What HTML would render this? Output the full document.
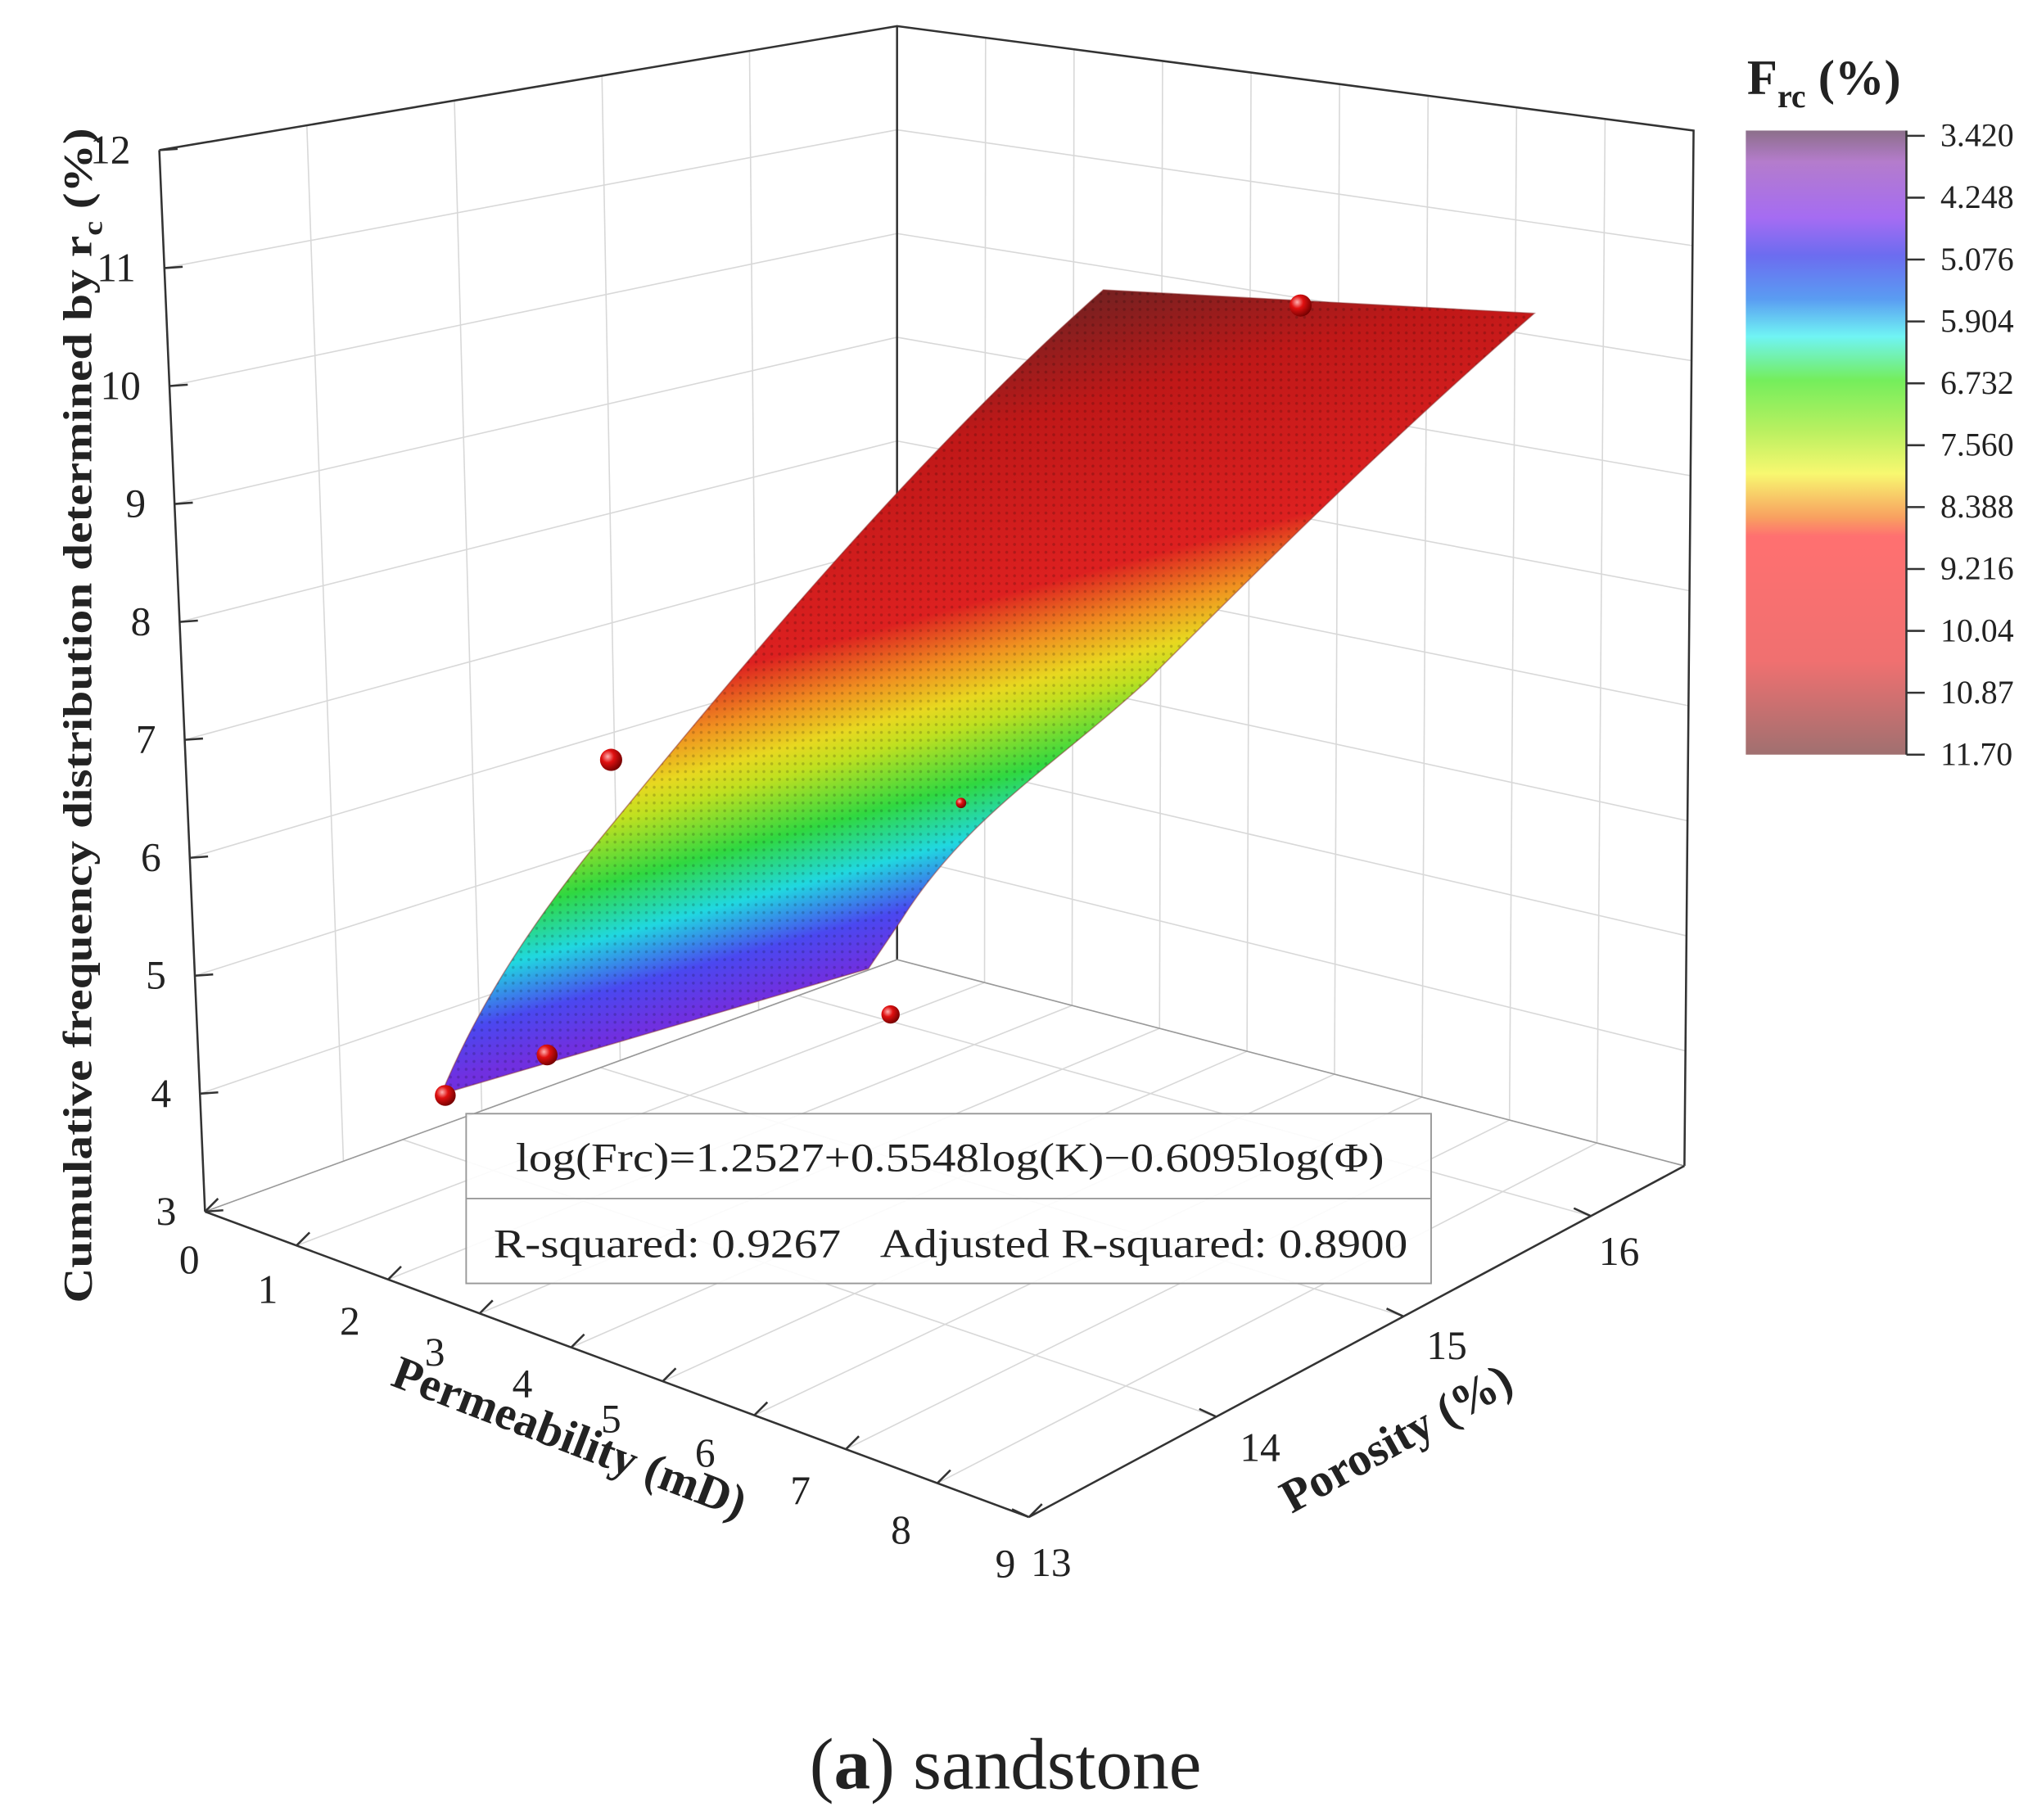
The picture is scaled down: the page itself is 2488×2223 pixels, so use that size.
<!DOCTYPE html>
<html><head><meta charset="utf-8"><style>
html,body{margin:0;padding:0;background:#fff;}
svg{display:block;}
text{font-family:"Liberation Serif",serif;fill:#222;}
</style></head><body>
<svg id="s" width="2488" height="2223" viewBox="0 0 1560 1394" preserveAspectRatio="none" xmlns="http://www.w3.org/2000/svg">
<defs>
<linearGradient id="cb" x1="0" y1="0" x2="0" y2="1">
<stop offset="0" stop-color="#8c6f8a"/>
<stop offset="0.05" stop-color="#b47ccc"/>
<stop offset="0.14" stop-color="#a56cf2"/>
<stop offset="0.2" stop-color="#6c6cf0"/>
<stop offset="0.27" stop-color="#5a9cf2"/>
<stop offset="0.33" stop-color="#70f4f4"/>
<stop offset="0.4" stop-color="#74ee5c"/>
<stop offset="0.48" stop-color="#b8f060"/>
<stop offset="0.55" stop-color="#f8f870"/>
<stop offset="0.62" stop-color="#f8a060"/>
<stop offset="0.65" stop-color="#ff7070"/>
<stop offset="0.85" stop-color="#f07070"/>
<stop offset="1" stop-color="#a07070"/>
</linearGradient>
<linearGradient id="sf" gradientUnits="userSpaceOnUse" x1="600" y1="810" x2="470" y2="330">
<stop offset="0" stop-color="#6a2ad8"/>
<stop offset="0.1" stop-color="#7030e0"/>
<stop offset="0.17" stop-color="#4a48f0"/>
<stop offset="0.25" stop-color="#20d8e0"/>
<stop offset="0.33" stop-color="#30d840"/>
<stop offset="0.42" stop-color="#c0e020"/>
<stop offset="0.46" stop-color="#e8d820"/>
<stop offset="0.52" stop-color="#f09020"/>
<stop offset="0.6" stop-color="#dd2020"/>
<stop offset="0.85" stop-color="#c01818"/>
<stop offset="1.1" stop-color="#7a2020"/>
</linearGradient>
<radialGradient id="ball" cx="0.35" cy="0.35" r="0.7">
<stop offset="0" stop-color="#ffb0b0"/><stop offset="0.4" stop-color="#e01010"/><stop offset="1" stop-color="#700000"/>
</radialGradient>
<pattern id="mesh" width="6" height="6" patternUnits="userSpaceOnUse">
<circle cx="3" cy="3" r="1.1" fill="#000" fill-opacity="0.18"/>
</pattern>
</defs>
<g id="grid" stroke="#d8d8d8" stroke-width="1" fill="none"></g>
<g id="frame" stroke="#333" stroke-width="1.6" fill="none">
<polyline points="122,115 687,20 1297,100 1290,893"/>
<line x1="687" y1="20" x2="687" y2="735"/>
<line x1="687" y1="735" x2="1290" y2="893" stroke="#999" stroke-width="1"/>
<line x1="157" y1="928" x2="687" y2="735" stroke="#999" stroke-width="1"/>
<line x1="122" y1="115" x2="157" y2="928"/>
<line x1="157" y1="928" x2="788" y2="1162"/>
<line x1="788" y1="1162" x2="1290" y2="893"/>
</g>
<g id="ticks" stroke="#333" stroke-width="1.6"></g>
<g id="labels" font-size="31"></g>
<path d="M338,838 C370,760 420,690 470,630 C560,520 700,350 845,222 L1175,240 C1060,340 960,440 880,520 C810,585 740,625 690,705 L665,742 Z" fill="url(#sf)"/>
<path d="M338,838 C370,760 420,690 470,630 C560,520 700,350 845,222 L1175,240 C1060,340 960,440 880,520 C810,585 740,625 690,705 L665,742 Z" fill="url(#mesh)" stroke="#8a3030" stroke-width="1" stroke-opacity="0.5"/>
<g fill="url(#ball)">
<circle cx="341" cy="839" r="8"/><circle cx="419" cy="808" r="8"/><circle cx="468" cy="582" r="8.5"/>
<circle cx="682" cy="777" r="7"/><circle cx="736" cy="615" r="4"/><circle cx="996" cy="234" r="8.5"/>
</g>
<rect x="357" y="853" width="739" height="130" fill="#fff" fill-opacity="0.9" stroke="#999" stroke-width="1.2"/>
<line x1="357" y1="918" x2="1096" y2="918" stroke="#999" stroke-width="1.2"/>
<text x="395" y="897" font-size="31" textLength="665" lengthAdjust="spacingAndGlyphs">log(Frc)=1.2527+0.5548log(K)−0.6095log(Φ)</text>
<text x="378" y="963" font-size="31" textLength="266" lengthAdjust="spacingAndGlyphs">R-squared: 0.9267</text>
<text x="674" y="963" font-size="31" textLength="404" lengthAdjust="spacingAndGlyphs">Adjusted R-squared: 0.8900</text>
<text x="70" y="548" font-size="31" font-weight="bold" text-anchor="middle" transform="rotate(-90 70 548)" textLength="900" lengthAdjust="spacingAndGlyphs">Cumulative frequency distribution determined by r<tspan font-size="21" dy="8">c</tspan><tspan dy="-8"> (%)</tspan></text>
<text x="432" y="1112" font-size="36" font-weight="bold" text-anchor="middle" transform="rotate(21 432 1112)">Permeability (mD)</text>
<text x="1075" y="1112" font-size="36" font-weight="bold" text-anchor="middle" transform="rotate(-29 1075 1112)">Porosity (%)</text>
<rect x="1337" y="100" width="123" height="478" fill="url(#cb)"/>
<line x1="1460" y1="100" x2="1460" y2="578" stroke="#333" stroke-width="1.6"/>
<g id="cbt" font-size="25"></g>
<text x="1338" y="72" font-size="38" font-weight="bold">F<tspan font-size="25" dy="10">rc</tspan><tspan dy="-10"> (%)</tspan></text>
<text x="770" y="1370" font-size="56" text-anchor="middle">(<tspan font-weight="bold">a</tspan>) sandstone</text>
</svg>
<script>
const NS="http://www.w3.org/2000/svg";
function L(g,x1,y1,x2,y2){const l=document.createElementNS(NS,"line");l.setAttribute("x1",x1);l.setAttribute("y1",y1);l.setAttribute("x2",x2);l.setAttribute("y2",y2);document.getElementById(g).appendChild(l);}
function T(g,x,y,s,a){const t=document.createElementNS(NS,"text");t.setAttribute("x",x);t.setAttribute("y",y);if(a)t.setAttribute("text-anchor",a);t.textContent=s;document.getElementById(g).appendChild(t);}
function lerp(a,b,t){return [a[0]+(b[0]-a[0])*t,a[1]+(b[1]-a[1])*t];}
const FL=[157,928],FLt=[122,115],BK=[687,735],BKt=[687,20],FR=[788,1162],R=[1290,893],Rt=[1297,100];
for(let i=0;i<=9;i++){const t=i/9;const a=lerp(FL,FLt,t),b=lerp(BK,BKt,t);L("grid",a[0],a[1],b[0],b[1]);
 const c=lerp(R,Rt,t);L("grid",b[0],b[1],c[0],c[1]);
 L("ticks",a[0],a[1],a[0]+14,a[1]-1);
 T("labels",a[0]-22,a[1]+10,String(3+i),"end");}
for(let i=1;i<5;i++){const t=i/5;const a=lerp(FL,BK,t),b=lerp(FLt,BKt,t);L("grid",a[0],a[1],b[0],b[1]);}
for(let i=1;i<9;i++){const t=i/9;const a=lerp(BK,R,t),b=lerp(BKt,Rt,t);L("grid",a[0],a[1],b[0],b[1]);}
for(let i=0;i<=9;i++){const t=i/9;const a=lerp(FL,FR,t),b=lerp(BK,R,t);if(i>0&&i<9)L("grid",a[0],a[1],b[0],b[1]);
 L("ticks",a[0],a[1],a[0]+10,a[1]-10);}
const kl=[[145,975],[205,998],[268,1022],[333,1046],[400,1070],[468,1097],[540,1123],[613,1152],[690,1182],[770,1208]];
kl.forEach((p,i)=>T("labels",p[0],p[1],String(i),"middle"));
const pm=[0,1/3.5,2/3.5,3/3.5];
pm.forEach(t=>{const a=lerp(FR,R,t),b=lerp(FL,BK,t);if(t>0)L("grid",a[0],a[1],b[0],b[1]);L("ticks",a[0],a[1],a[0]-13,a[1]-6);});
[[805,1207],[965,1119],[1108,1041],[1240,969]].forEach((p,i)=>T("labels",p[0],p[1],["13","14","15","16"][i],"middle"));
const cv=["3.420","4.248","5.076","5.904","6.732","7.560","8.388","9.216","10.04","10.87","11.70"];
cv.forEach((v,i)=>{const y=104+i*(474/10);L("ticks",1460,y,1474,y);T("cbt",1486,y+8,v);});
</script>
</body></html>
